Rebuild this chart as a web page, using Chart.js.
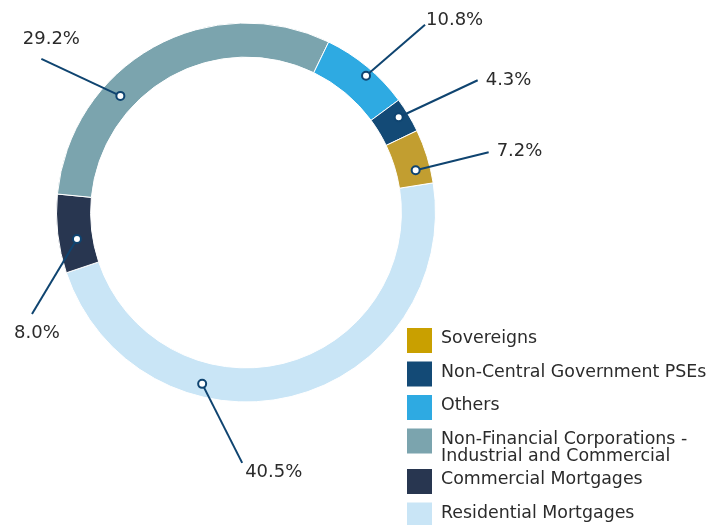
<!DOCTYPE html>
<html>
<head>
<meta charset="utf-8">
<title>Exposure by sector</title>
<script src="https://cdn.jsdelivr.net/npm/chart.js@4.4.1/dist/chart.umd.min.js"></script>
<style>
  html, body { margin: 0; padding: 0; background: #fff; }
  #wrap { width: 725px; height: 525px; }
</style>
</head>
<body>
<div id="wrap"><canvas id="donut" width="725" height="525"></canvas></div>
<script>
// Data, in legend order
const categories = [
  'Sovereigns',
  'Non-Central Government PSEs',
  'Others',
  ['Non-Financial Corporations -', 'Industrial and Commercial'],
  'Commercial Mortgages',
  'Residential Mortgages'
];
// share of the ring as drawn (%)
const sliceShares = [4.6, 3.0, 7.7, 30.6, 6.7, 47.3];
// percentages printed next to the ring
const shareLabels = ['7.2%', '4.3%', '10.8%', '29.2%', '8.0%', '40.5%'];
const colors = ['#C29E30', '#134A76', '#2EAAE2', '#7BA4AE', '#283650', '#C9E5F6'];
const swatchColors = ['#C9A000', '#134A76', '#2EAAE2', '#7BA4AE', '#283650', '#C9E5F6'];

// callout layout: where the dot sits inside its arc (along / across), leader vector, text offset
const leaders = [
  { frac: 0.70,  rFrac: 0.57, dx: 73,  dy: -18, tx: 8,  ty: 4,   align: 'left' },
  { frac: 0.41,  rFrac: 0.72, dx: 79,  dy: -37, tx: 8,  ty: 5,   align: 'left' },
  { frac: 0.555, rFrac: 0.78, dx: 59,  dy: -51, tx: 1,  ty: 0,   align: 'left' },
  { frac: 0.338, rFrac: 0.47, dx: -79, dy: -37, tx: 10, ty: -15, align: 'center' },
  { frac: 0.40,  rFrac: 0.46, dx: -45, dy: 75,  tx: 5,  ty: 24,  align: 'center' },
  { frac: 0.665, rFrac: 0.63, dx: 40,  dy: 79,  tx: 3,  ty: 14,  align: 'left' }
];

const FONT = '"DejaVu Sans", Verdana, sans-serif';
const LINE = '#0F4470';

// the ring runs counter-clockwise in legend order, so feed it reversed
const order = categories.map((_, i) => categories.length - 1 - i);

const calloutPlugin = {
  id: 'callouts',
  afterDatasetsDraw(chart) {
    const ctx = chart.ctx;
    chart.getDatasetMeta(0).data.forEach((arc, j) => {
      const i = order[j];
      const lay = leaders[i];
      const p = arc.getProps(['x', 'y', 'startAngle', 'endAngle', 'innerRadius', 'outerRadius'], true);
      const a = p.startAngle + (p.endAngle - p.startAngle) * lay.frac;
      const r = p.innerRadius + (p.outerRadius - p.innerRadius) * lay.rFrac;
      const mx = p.x + r * Math.cos(a);
      const my = p.y + r * Math.sin(a);
      const ex = mx + lay.dx, ey = my + lay.dy;

      ctx.save();
      ctx.strokeStyle = LINE;
      ctx.lineWidth = 2;
      ctx.beginPath();
      ctx.moveTo(mx, my);
      ctx.lineTo(ex, ey);
      ctx.stroke();
      ctx.beginPath();
      ctx.arc(mx, my, 4, 0, Math.PI * 2);
      ctx.fillStyle = '#fff';
      ctx.fill();
      ctx.stroke();

      ctx.font = '18px ' + FONT;
      ctx.fillStyle = '#2B2B2B';
      ctx.textAlign = lay.align;
      ctx.textBaseline = 'alphabetic';
      ctx.fillText(shareLabels[i], ex + lay.tx, ey + lay.ty);
      ctx.restore();
    });
  }
};

const legendPlugin = {
  id: 'sideLegend',
  afterDraw(chart) {
    const ctx = chart.ctx;
    const x0 = 407, y0 = 328, box = 25, step = 33.5, lineH = 17;
    let y = y0;
    ctx.save();
    ctx.font = '17.4px ' + FONT;
    ctx.textAlign = 'left';
    ctx.textBaseline = 'alphabetic';
    categories.forEach((c, i) => {
      const lines = Array.isArray(c) ? c : [c];
      ctx.fillStyle = swatchColors[i];
      ctx.fillRect(x0, y, box, box);
      ctx.fillStyle = '#2B2B2B';
      lines.forEach((t, k) => ctx.fillText(t, x0 + 34, y + 15 + k * lineH));
      y += step + (lines.length - 1) * 7;
    });
    ctx.restore();
  }
};

new Chart(document.getElementById('donut'), {
  type: 'doughnut',
  data: {
    labels: order.map(i => Array.isArray(categories[i]) ? categories[i].join(' ') : categories[i]),
    datasets: [{
      data: order.map(i => sliceShares[i]),
      backgroundColor: order.map(i => colors[i]),
      borderColor: '#fff',
      borderWidth: 1
    }]
  },
  options: {
    responsive: false,
    animation: false,
    events: [],
    rotation: 81,
    cutout: '82%',
    layout: { padding: { left: 56, top: 22.5, right: 289, bottom: 122.5 } },
    plugins: {
      legend: { display: false },
      tooltip: { enabled: false }
    }
  },
  plugins: [calloutPlugin, legendPlugin]
});
</script>
</body>
</html>
